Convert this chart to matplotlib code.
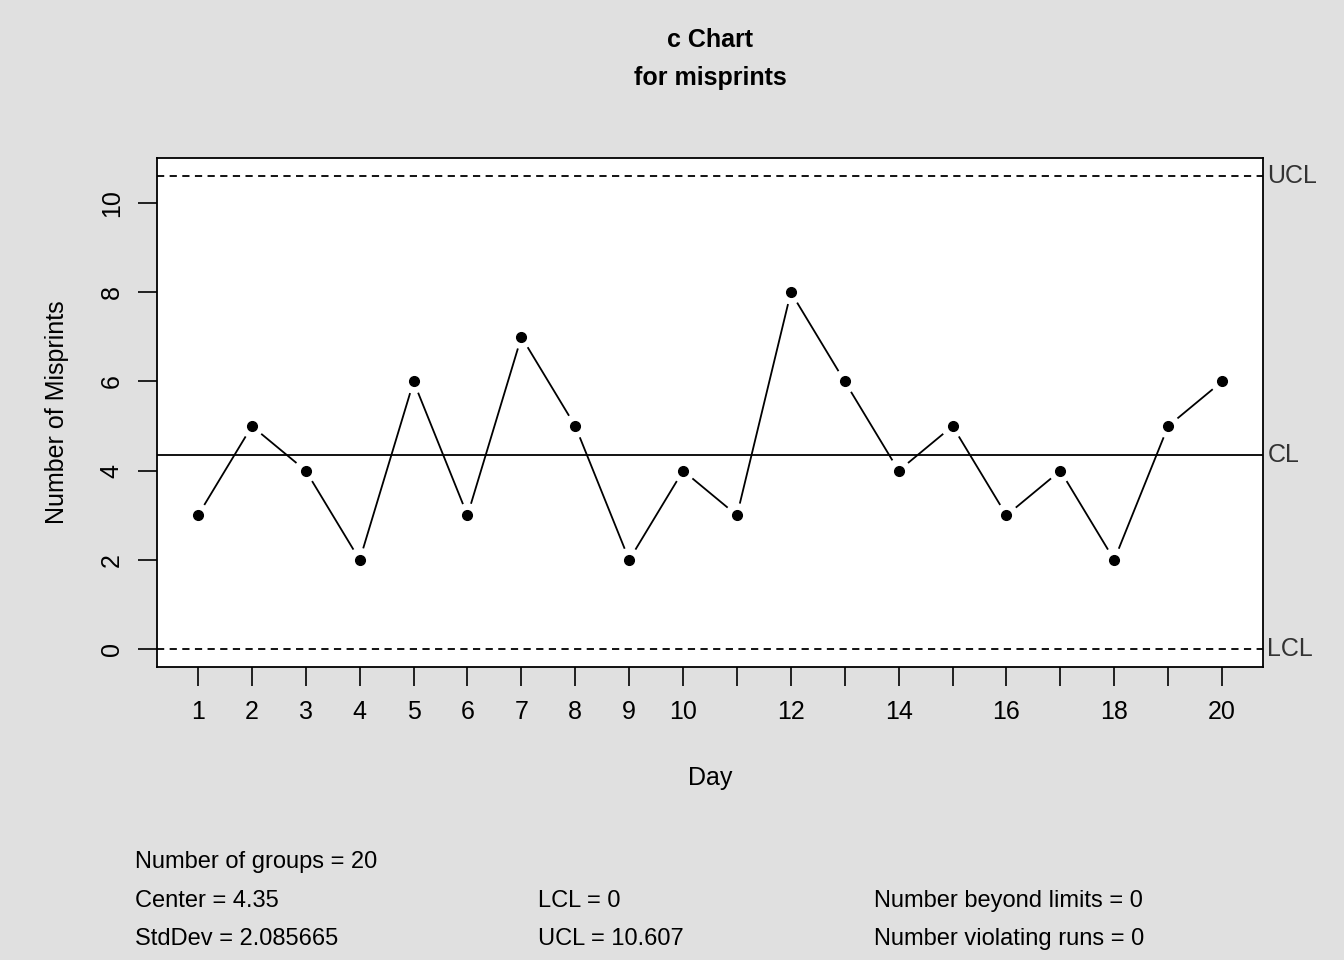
import numpy as np
import matplotlib.pyplot as plt

plt.rcParams['font.family'] = ['Liberation Sans', 'DejaVu Sans']

days = list(range(1, 21))
misprints = [3, 5, 4, 2, 6, 3, 7, 5, 2, 4, 3, 8, 6, 4, 5, 3, 4, 2, 5, 6]
center = 4.35
lcl = 0
ucl = 10.607
stddev = 2.085665
xtick_labels = ['1', '2', '3', '4', '5', '6', '7', '8', '9', '10', '', '12', '',
                '14', '', '16', '', '18', '', '20']

bg = '#e0e0e0'
fig = plt.figure(figsize=(13.44, 9.6), dpi=100, facecolor=bg)
ax = fig.add_axes([157 / 1344, 1 - 667 / 960, 1106 / 1344, 509 / 960])
ax.set_xlim(0.239, 20.76)
ax.set_ylim(-0.40, 11.01)

# type "b" line: segments with gaps around points
fig.canvas.draw()
pts = ax.transData.transform(np.column_stack([days, misprints]))
gap = 13
inv = ax.transData.inverted()
for i in range(len(pts) - 1):
    p, q = pts[i], pts[i + 1]
    d = q - p
    L = np.hypot(*d)
    if L <= 2 * gap:
        continue
    u = d / L
    a, b = inv.transform([p + u * gap, q - u * gap])
    ax.plot([a[0], b[0]], [a[1], b[1]], color='black', lw=1.3)
ax.plot(days, misprints, 'o', color='black', ms=7)

ax.axhline(center, color='black', lw=1.3)
ax.axhline(ucl, color='black', lw=1.3, ls=(0, (4, 3)))
ax.axhline(lcl, color='black', lw=1.3, ls=(0, (4, 3)))
for y, lab in [(ucl, 'UCL'), (center, 'CL'), (lcl, 'LCL')]:
    ax.text(1.004, y, lab, transform=ax.get_yaxis_transform(), va='center', ha='left',
            fontsize=18, color='#333333', clip_on=False)

ax.set_xticks(days)
ax.set_xticklabels(xtick_labels, fontsize=18)
ax.set_yticks([0, 2, 4, 6, 8, 10])
ax.set_yticklabels(['0', '2', '4', '6', '8', '10'], fontsize=18, rotation=90, va='center')
ax.tick_params(length=14, width=1.2, pad=10)
for s in ax.spines.values():
    s.set_linewidth(1.3)

ax.set_xlabel('Day', fontsize=18, labelpad=30)
ax.set_ylabel('Number of Misprints', fontsize=18, labelpad=22)

fig.text(710 / 1344, 1 - 40 / 960, 'c Chart', ha='center', va='center', fontsize=18, fontweight='bold')
fig.text(710 / 1344, 1 - 78 / 960, 'for misprints', ha='center', va='center', fontsize=18, fontweight='bold')

stats = [
    (135, 862, 'Number of groups = %d' % len(days)),
    (135, 901, 'Center = %g' % center),
    (135, 939, 'StdDev = %.6f' % stddev),
    (538, 901, 'LCL = %g' % lcl),
    (538, 939, 'UCL = %g' % ucl),
    (874, 901, 'Number beyond limits = 0'),
    (874, 939, 'Number violating runs = 0'),
]
for x, y, t in stats:
    fig.text(x / 1344, 1 - y / 960, t, ha='left', va='center', fontsize=17)

fig.savefig('out.png', dpi=100, facecolor=bg)
